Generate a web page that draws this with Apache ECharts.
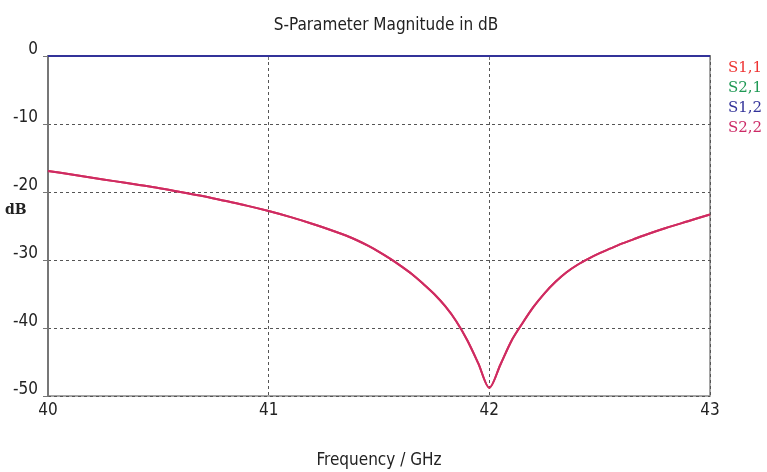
<!DOCTYPE html>
<html>
<head>
<meta charset="utf-8">
<script src="https://cdn.jsdelivr.net/npm/echarts@6/dist/echarts.min.js"></script>
<style>html,body{margin:0;padding:0;background:#fff}#c{width:767px;height:472px}</style>
</head>
<body>
<div id="c"></div>
<script>
var freq = [40.0,40.1,40.2,40.3,40.4,40.5,40.6,40.7,40.8,40.9,41.0,41.1,41.2,41.3,41.35,41.4,41.45,41.5,41.55,41.6,41.65,41.7,41.75,41.8,41.85,41.9,41.95,42.0,42.05,42.1,42.15,42.2,42.25,42.3,42.35,42.4,42.45,42.5,42.55,42.6,42.65,42.7,42.8,42.9,43.0];
var s11 = [-16.9,-17.4,-17.9,-18.4,-18.9,-19.4,-20.0,-20.6,-21.3,-22.0,-22.8,-23.7,-24.7,-25.8,-26.4,-27.1,-27.9,-28.8,-29.8,-30.9,-32.1,-33.5,-35.0,-36.8,-39.0,-41.8,-45.2,-48.8,-45.4,-41.9,-39.3,-36.9,-34.9,-33.2,-31.8,-30.7,-29.8,-29.0,-28.3,-27.6,-27.0,-26.4,-25.3,-24.3,-23.3];
var s22 = s11.slice();
var s21Freq = [40.0,43.0];
var s21 = [0,0];
var s12 = [0,0];
var names = ['S1,1','S2,1','S1,2','S2,2'];
var colors = ['#ee3333','#1f9955','#333399','#cc2a66'];

function pairs(xs, ys){ return xs.map(function(x,i){return [x, ys[i]];}); }

var font = '"DejaVu Sans Condensed", "DejaVu Sans", sans-serif';
var chart = echarts.init(document.getElementById('c'));
chart.setOption({
  animation:false,
  backgroundColor:'#fff',
  title:{text:'S-Parameter Magnitude in dB', left:381, top:12, textAlign:'center',
    textStyle:{fontFamily:font, fontSize:17, fontWeight:'normal', color:'#222'}},
  legend:{orient:'vertical', left:723, top:56, itemWidth:0, itemHeight:0, itemGap:5, icon:'rect',
    textStyle:{fontFamily:'"DejaVu Serif", serif', fontSize:15, padding:[0,0,0,-5]},
    data:names.map(function(n,i){return {name:n, textStyle:{color:colors[i]}};})},
  graphic:[{type:'text', left:5, top:203, style:{text:'dB', fontFamily:'"DejaVu Serif", serif', fontSize:14, fontWeight:'bold', fill:'#222'}}],
  grid:{left:48, right:57, top:56, bottom:76, show:true, borderColor:'#888', borderWidth:1.5, containLabel:false, outerBoundsMode:'none'},
  xAxis:{type:'value', min:40, max:43, interval:1, name:'Frequency / GHz', nameLocation:'middle', nameGap:56,
    nameTextStyle:{fontFamily:font, fontSize:17, color:'#222'},
    axisLine:{show:true, lineStyle:{color:'#777', width:2}},
    axisTick:{show:true, length:4, lineStyle:{color:'#777'}},
    axisLabel:{fontFamily:font, fontSize:17, color:'#222', margin:6},
    splitLine:{show:true, lineStyle:{color:'#555', type:[3,3], width:1}}},
  yAxis:{type:'value', min:-50, max:0, interval:10,
    axisLine:{show:true, lineStyle:{color:'#777', width:2}},
    axisTick:{show:true, length:5, lineStyle:{color:'#777'}},
    axisLabel:{fontFamily:font, fontSize:17, color:'#222', margin:10, verticalAlign:'bottom', lineHeight:12},
    splitLine:{show:true, lineStyle:{color:'#555', type:[3,3], width:1}}},
  series:[
    {name:names[0], type:'line', data:pairs(freq,s11), smooth:0.3, showSymbol:false, lineStyle:{color:colors[0], width:2}, itemStyle:{color:colors[0]}},
    {name:names[1], type:'line', data:pairs(s21Freq,s21), showSymbol:false, lineStyle:{color:colors[1], width:2}, itemStyle:{color:colors[1]}},
    {name:names[2], type:'line', data:pairs(s21Freq,s12), showSymbol:false, lineStyle:{color:colors[2], width:2}, itemStyle:{color:colors[2]}},
    {name:names[3], type:'line', data:pairs(freq,s22), smooth:0.3, showSymbol:false, lineStyle:{color:colors[3], width:2}, itemStyle:{color:colors[3]}}
  ]
});
</script>
</body>
</html>
